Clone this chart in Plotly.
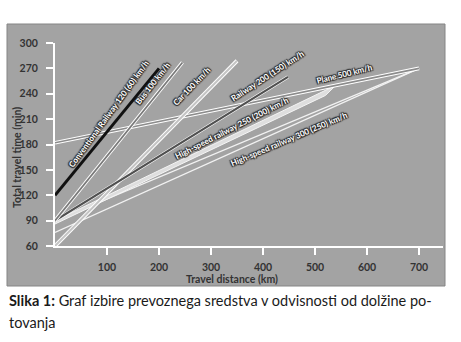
import plotly.graph_objects as go

# ---- data ----
x_ticks = [100, 200, 300, 400, 500, 600, 700]
y_ticks = [60, 90, 120, 150, 180, 210, 240, 270, 300]

conv_x = [0, 200];   conv_y = [120, 270]
bus_x = [0, 245];    bus_y = [90, 277]
car_x = [0, 350];    car_y = [60, 279]
rail_x = [0, 448];   rail_y = [90, 260]
plane_x = [0, 700];  plane_y = [182, 270]
hsr250_x = [0, 540, 520, 0];  hsr250_y = [90, 250, 238, 86]
hsr300a_x = [0, 700]; hsr300a_y = [90, 270]
hsr300b_x = [0, 700]; hsr300b_y = [76, 270]

labels = [
    ("Conventional Railway 120 (60) km/h", 103, 216, -54),
    ("Bus 100 km/h", 188, 253, -52),
    ("Car 100 km/h", 263, 249, -46),
    ("Railway 200 (150) km/h", 408, 261, -33),
    ("Plane 500 km/h", 556, 263, -14),
    ("High-speed railway 250 (200) km/h", 340, 199, -27),
    ("High-speed railway 300 (250) km/h", 450, 187, -23),
]

BG = "#a3a3a3"
fig = go.Figure()

def outlined(x, y, core, w, edge=1.2):
    fig.add_trace(go.Scatter(x=x, y=y, mode="lines", hoverinfo="skip",
                             line=dict(color="white", width=w + 2 * edge)))
    fig.add_trace(go.Scatter(x=x, y=y, mode="lines", hoverinfo="skip",
                             line=dict(color=core, width=w)))

# high speed railway 300 (250): thin white wedge
fig.add_trace(go.Scatter(x=hsr300a_x, y=hsr300a_y, mode="lines", hoverinfo="skip",
                         line=dict(color="#f2f2f2", width=1.3)))
fig.add_trace(go.Scatter(x=hsr300b_x, y=hsr300b_y, mode="lines", hoverinfo="skip",
                         line=dict(color="#f2f2f2", width=1.3)))
# high speed railway 250 (200): light band
fig.add_trace(go.Scatter(x=hsr250_x, y=hsr250_y, mode="lines", fill="toself",
                         fillcolor="#dedede", hoverinfo="skip",
                         line=dict(color="#f4f4f4", width=1)))
outlined(plane_x, plane_y, "#8c8c8c", 1.6, 1.0)
outlined(car_x, car_y, "#c4c4c4", 2.0, 1.0)
outlined(rail_x, rail_y, "#505050", 2.2, 0.6)
outlined(bus_x, bus_y, "#7a7a7a", 1.8, 0.9)
fig.add_trace(go.Scatter(x=conv_x, y=conv_y, mode="lines", hoverinfo="skip",
                         line=dict(color="#111111", width=3)))

for text, lx, ly, ang in labels:
    fig.add_annotation(x=lx, y=ly, text=text, showarrow=False, textangle=ang,
                       font=dict(family="Lato", size=8, color="white", weight=700,
                                 shadow="1px 1px 1px #222, -1px -1px 1px #222, 1px -1px 1px #222, -1px 1px 1px #222"))

# gray panel
fig.add_shape(type="rect", xref="paper", yref="paper",
              x0=(7 - 55) / 388, x1=(445 - 55) / 388,
              y0=(246 - 286) / 203, y1=(246 - 24) / 203,
              fillcolor=BG, line=dict(color="#858585", width=1), layer="below")

# axis titles
fig.add_annotation(xref="paper", yref="paper", x=(232 - 55) / 388, y=(246 - 279) / 203,
                   xanchor="center", yanchor="middle",
                   text="<b>Travel distance (km)</b>", showarrow=False,
                   font=dict(family="Lato", size=10.5, color="#333333"))
fig.add_annotation(xref="paper", yref="paper", x=(17 - 55) / 388, y=(246 - 158) / 203,
                   xanchor="center", yanchor="middle",
                   text="<b>Total travel time (min)</b>", showarrow=False, textangle=-90,
                   font=dict(family="Lato", size=10.5, color="#333333"))

# caption
fig.add_annotation(xref="paper", yref="paper", x=(7 - 55) / 388, y=(246 - 300) / 203,
                   xanchor="left", yanchor="middle", align="left",
                   text="<b>Slika 1:</b> Graf izbire prevoznega sredstva v odvisnosti od dolžine po-",
                   showarrow=False, font=dict(family="Lato", size=14.5, color="#1a1a1a"))
fig.add_annotation(xref="paper", yref="paper", x=(7 - 55) / 388, y=(246 - 322) / 203,
                   xanchor="left", yanchor="middle", align="left",
                   text="tovanja", showarrow=False,
                   font=dict(family="Lato", size=14.5, color="#1a1a1a"))

axis_common = dict(showgrid=False, zeroline=False, showline=True, linecolor="white",
                   linewidth=2, ticks="outside", ticklen=7, tickwidth=2, tickcolor="white",
                   tickfont=dict(family="Lato", size=10.5, color="#333333", weight=700))
fig.update_xaxes(range=[0, 746], tickvals=x_ticks, ticklabelstandoff=3, **axis_common)
fig.update_yaxes(range=[60, 300], tickvals=y_ticks, ticklabelstandoff=6, **axis_common)

fig.update_layout(width=461, height=342, margin=dict(l=55, r=18, t=43, b=96),
                  paper_bgcolor="white", plot_bgcolor="rgba(0,0,0,0)", showlegend=False)

fig.write_html("out.html")
